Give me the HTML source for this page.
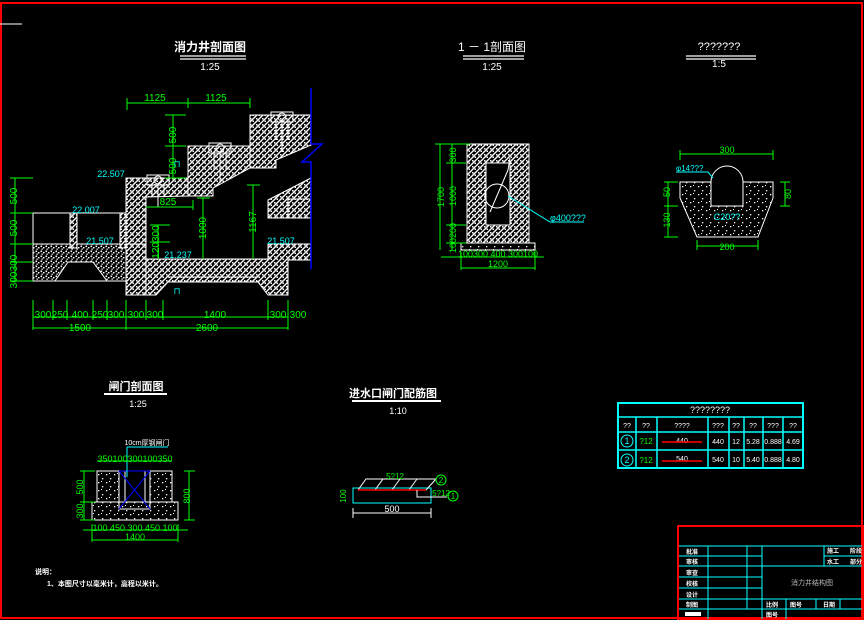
<!DOCTYPE html>
<html><head><meta charset="utf-8"><style>
html,body{margin:0;padding:0;background:#000;}
svg{display:block;}
text{font-family:"Liberation Sans","Noto Sans CJK SC",sans-serif;}
</style></head><body>
<svg width="864" height="620" viewBox="0 0 864 620" xmlns="http://www.w3.org/2000/svg">
<defs>
<pattern id="h" width="6" height="6" patternUnits="userSpaceOnUse">
<rect width="6" height="6" fill="#000"/>
<path d="M0 6L6 0M-2 2L2 -2M4 8L8 4" stroke="#fff" stroke-width="1.4"/>
<rect x="0.5" y="0.5" width="1.5" height="1.5" fill="#fff"/><rect x="4" y="4" width="1.5" height="1.5" fill="#fff"/>
</pattern>
<pattern id="d" width="5" height="5" patternUnits="userSpaceOnUse">
<rect width="5" height="5" fill="#000"/>
<rect x="0.5" y="0.5" width="1.6" height="1.6" fill="#fff"/><rect x="3" y="2" width="1.5" height="1.4" fill="#fff"/><rect x="1.5" y="3.5" width="1.3" height="1.3" fill="#fff"/>
</pattern>
<pattern id="s" width="8" height="8" patternUnits="userSpaceOnUse">
<rect width="8" height="8" fill="#000"/>
<rect x="2" y="2" width="1.3" height="1.3" fill="#fff"/><rect x="6" y="6" width="1.3" height="1.3" fill="#fff"/><rect x="5" y="1" width="1" height="1" fill="#fff"/>
</pattern>
</defs>
<rect width="864" height="620" fill="#000"/>
<rect x="1" y="3" width="861" height="615" fill="none" stroke="#f00" stroke-width="2"/>
<line x1="0" y1="24" x2="22" y2="24" stroke="#fff"/>

<g fill="#fff" font-size="11" text-anchor="middle">
<text x="210" y="51" font-size="12" font-weight="bold">消力井剖面图</text>
<text x="210" y="70" font-size="10">1:25</text>
</g>
<g stroke="#fff" stroke-width="1.2"><line x1="180" y1="56" x2="246" y2="56"/><line x1="180" y1="59" x2="246" y2="59"/></g>

<g stroke="#fff" stroke-width="1">
<rect x="33" y="213" width="93" height="68" fill="none"/>
<polygon points="33,244 126,244 126,281 107,281 93,262 68,262 55,281 33,281" fill="url(#d)"/>
<rect x="70" y="213" width="7" height="35" fill="url(#h)"/><rect x="120" y="213" width="6" height="35" fill="url(#h)"/>
<polygon points="126,178 188,178 188,196 146,197 146,295 126,295" fill="url(#h)"/>
<polygon points="188,146 250,146 250,168 213,188 213,196 188,196" fill="url(#h)"/>
<polygon points="250,115 311,115 311,145 276,160 276,168 250,168" fill="url(#h)"/>
<polygon points="268,200 311,178 311,218 268,218" fill="url(#h)"/>
<rect x="288" y="199" width="23" height="19" fill="url(#h)"/>
<polygon points="146,259 268,259 268,244 311,244 311,260 288,260 288,295 268,295 258,282 168,282 156,295 146,295" fill="url(#h)"/>
<line x1="168" y1="277" x2="258" y2="277"/>
<rect x="126" y="244" width="20" height="51" fill="url(#h)"/>
<g fill="none">
<rect x="147" y="175" width="22" height="10"/><circle cx="158" cy="180" r="4"/><line x1="158" y1="185" x2="158" y2="207"/><line x1="152" y1="185" x2="152" y2="197"/><line x1="164" y1="185" x2="164" y2="197"/>
<rect x="209" y="143" width="22" height="10"/><circle cx="220" cy="148" r="4"/><line x1="220" y1="153" x2="220" y2="183"/><line x1="214" y1="153" x2="214" y2="170"/><line x1="226" y1="153" x2="226" y2="170"/>
<rect x="271" y="112" width="22" height="10"/><circle cx="282" cy="117" r="4"/><line x1="282" y1="122" x2="282" y2="152"/><line x1="276" y1="122" x2="276" y2="140"/><line x1="288" y1="122" x2="288" y2="140"/>
</g>
</g>
<path d="M311 88V144H322L302 162H311V269" stroke="#00f" stroke-width="1.5" fill="none"/>

<g stroke="#0f0" stroke-width="1" fill="none">
<path d="M127 103H250M127 98V110M188 98V108M250 98V108"/>
<path d="M173 115V178M165 115H186M165 146H186M165 178H186"/>
<path d="M146 207H193M193 200V210"/>
<path d="M203 198V259M197 198H210"/>
<path d="M253 185V259M247 185H260"/>
<path d="M158 225V259M150 225H170M150 242H170"/>
<path d="M15 178V281M10 178H33M10 213H33M10 244H33M10 262H33M10 281H33"/>
<path d="M33 300V320M33 317H288M53 300V320M67 300V320M93 300V320M107 300V320M126 300V330M146 300V320M163 300V320M268 300V320M288 300V330M33 328H288M33 310V330"/>
</g>
<g fill="#0f0" font-size="10" text-anchor="middle">
<text x="155" y="101">1125</text><text x="216" y="101">1125</text>
<text x="168" y="205">825</text>
<text transform="translate(176,135) rotate(-90)">500</text><text transform="translate(176,166) rotate(-90)">500</text>
<text transform="translate(206,228) rotate(-90)">1000</text><text transform="translate(256,222) rotate(-90)">1167</text>
<text transform="translate(159,242) rotate(-90)">120300</text>
<text transform="translate(17,196) rotate(-90)">500</text><text transform="translate(17,228) rotate(-90)">500</text><text transform="translate(17,263) rotate(-90)">300</text><text transform="translate(17,280) rotate(-90)">300</text>
<text x="43" y="318">300</text><text x="60" y="318">250</text><text x="80" y="318">400</text><text x="100" y="318">250</text><text x="116" y="318">300</text><text x="136" y="318">300</text><text x="155" y="318">300</text><text x="215" y="318">1400</text><text x="278" y="318">300</text><text x="298" y="318">300</text>
<text x="80" y="331">1500</text><text x="207" y="331">2600</text>
</g>
<g fill="#0ff" font-size="9" text-anchor="middle">
<text x="111" y="177">22.507</text><text x="86" y="213">22.007</text><text x="100" y="244">21.507</text><text x="178" y="258">21.237</text><text x="281" y="244">21.507</text>
<text x="177" y="167">⊓</text><text x="177" y="294">⊓</text>
</g>

<g fill="#fff" text-anchor="middle"><text x="492" y="51" font-size="12">1 － 1剖面图</text><text x="492" y="70" font-size="10">1:25</text></g>
<g stroke="#fff" stroke-width="1.2"><line x1="463" y1="56" x2="524" y2="56"/><line x1="463" y1="59" x2="524" y2="59"/></g>
<g stroke="#fff" stroke-width="1" fill="none">
<rect x="467" y="144" width="62" height="99" fill="url(#h)"/>
<rect x="486" y="163" width="24" height="62" fill="#000"/>
<rect x="461" y="243" width="74" height="7" fill="url(#s)"/>
<circle cx="497" cy="196" r="12"/><line x1="490" y1="212" x2="508" y2="170"/><line x1="508" y1="170" x2="510" y2="158"/>
</g>
<path d="M508 196L550 222H584" stroke="#0ff" fill="none"/>
<text x="550" y="221" fill="#0ff" font-size="9">φ400???</text>
<g stroke="#0f0" fill="none"><path d="M440 144V250M435 144H470M452 144V250M446 163H466M446 225H466M446 243H466M441 257H544M461 252V270M535 252V270M461 268H535"/></g>
<g fill="#0f0" font-size="9" text-anchor="middle">
<text transform="translate(444,197) rotate(-90)">1700</text><text transform="translate(456,155) rotate(-90)">300</text><text transform="translate(456,196) rotate(-90)">1000</text><text transform="translate(456,238) rotate(-90)">100200</text>
<text x="498" y="257">100300 400 300100</text><text x="498" y="267">1200</text>
</g>

<g fill="#fff" text-anchor="middle"><text x="719" y="50" font-size="11">???????</text><text x="719" y="67" font-size="10">1:5</text></g>
<g stroke="#fff" stroke-width="1.2"><line x1="686" y1="56" x2="756" y2="56"/><line x1="686" y1="59" x2="756" y2="59"/></g>
<g stroke="#fff" stroke-width="1">
<polygon points="680,182 773,182 773,198 758,237 697,237 680,198" fill="url(#s)"/>
<path d="M711 206V182A16 16 0 0 1 743 182V206Z" fill="#000"/>
</g>
<text x="727" y="220" fill="#0ff" font-size="9" text-anchor="middle">C20??</text>
<path d="M676 172H708L713 178" stroke="#0ff" fill="none"/><text x="676" y="171" fill="#0ff" font-size="8">φ14???</text>
<g stroke="#0f0" fill="none"><path d="M680 154H773M680 150V160M773 150V160M668 182V237M664 182H678M664 206H678M664 237H678M785 182V206M780 182H790M780 206H790M697 246H758M697 240V250M758 240V250"/></g>
<g fill="#0f0" font-size="9" text-anchor="middle"><text x="727" y="153">300</text><text x="727" y="250">200</text>
<text transform="translate(670,192) rotate(-90)">50</text><text transform="translate(670,220) rotate(-90)">130</text><text transform="translate(791,194) rotate(-90)">80</text></g>

<g stroke="#0ff" stroke-width="1.5" fill="none">
<rect x="618" y="403" width="185" height="65" stroke-width="2"/>
<path d="M618 417H803M618 432H803M618 450H803M636 417V468M657 417V468M708 417V468M729 417V468M744 417V468M763 417V468M783 417V468"/>
</g>
<g fill="#fff" font-size="7" text-anchor="middle">
<text x="710" y="413" font-size="9">????????</text>
<text x="627" y="428">??</text><text x="646" y="428">??</text><text x="682" y="428">????</text><text x="718" y="428">???</text><text x="736" y="428">??</text><text x="753" y="428">??</text><text x="773" y="428">???</text><text x="793" y="428">??</text>
<text x="682" y="443">440</text><text x="718" y="444">440</text><text x="736" y="444">12</text><text x="753" y="444">5.28</text><text x="773" y="444">0.888</text><text x="793" y="444">4.69</text>
<text x="682" y="461">540</text><text x="718" y="462">540</text><text x="736" y="462">10</text><text x="753" y="462">5.40</text><text x="773" y="462">0.888</text><text x="793" y="462">4.80</text>
</g>
<g stroke="#f00" stroke-width="1.5"><line x1="662" y1="442" x2="702" y2="442"/><line x1="662" y1="461" x2="702" y2="461"/></g>
<g stroke="#0ff" fill="none"><circle cx="627" cy="441" r="6"/><circle cx="627" cy="460" r="6"/></g>
<g fill="#0ff" font-size="9" text-anchor="middle"><text x="627" y="444">1</text><text x="627" y="463">2</text></g>
<g fill="#0f0" font-size="8" text-anchor="middle"><text x="646" y="444">?12</text><text x="646" y="463">?12</text></g>

<g fill="#fff" text-anchor="middle"><text x="136" y="390" font-size="11" font-weight="bold">闸门剖面图</text><text x="138" y="407" font-size="9">1:25</text></g>
<line x1="104" y1="394" x2="167" y2="394" stroke="#fff" stroke-width="2"/>
<g stroke="#fff" stroke-width="1">
<rect x="92" y="502" width="86" height="18" fill="url(#s)"/>
<rect x="97" y="471" width="22" height="31" fill="url(#s)"/>
<rect x="150" y="471" width="22" height="31" fill="url(#s)"/>
<rect x="119" y="502" width="31" height="7" fill="url(#s)"/>
<line x1="125" y1="471" x2="125" y2="502"/><line x1="145" y1="471" x2="145" y2="502"/>
</g>
<path d="M119 471H150M119 471L150 509M150 471L119 509" stroke="#00f" fill="none"/>
<path d="M127 477V447H168" stroke="#0ff" fill="none"/>
<text x="147" y="445" fill="#fff" font-size="7" text-anchor="middle">10cm厚钢闸门</text>
<g stroke="#0f0" fill="none"><path d="M97 461H172M84 471V520M80 471H95M80 502H95M80 520H95M189 471V520M184 471H195M184 520H195M83 530H188M92 524V542M178 524V542M92 540H178"/></g>
<g fill="#0f0" font-size="9" text-anchor="middle"><text x="135" y="462">350100300100350</text><text x="135" y="531">100 450 300 450 100</text><text x="135" y="540">1400</text>
<text transform="translate(83,487) rotate(-90)">500</text><text transform="translate(83,511) rotate(-90)">300</text><text transform="translate(190,496) rotate(-90)">800</text></g>

<g fill="#fff" text-anchor="middle"><text x="393" y="397" font-size="11" font-weight="bold">进水口闸门配筋图</text><text x="398" y="414" font-size="9">1:10</text></g>
<line x1="352" y1="401" x2="441" y2="401" stroke="#fff" stroke-width="2"/>
<rect x="353" y="488" width="78" height="15" fill="none" stroke="#0ff"/>
<path d="M358 490L366 479H436L426 490M375 490L383 479M392 490L400 479M409 490L417 479" stroke="#fff" fill="none"/>
<line x1="358" y1="490" x2="426" y2="490" stroke="#f00" stroke-width="1.5"/>
<path d="M417 490V497H447" stroke="#fff" fill="none"/>
<g stroke="#0f0" fill="none"><circle cx="441" cy="480" r="5"/><circle cx="453" cy="496" r="5"/></g>
<g fill="#0f0" font-size="8" text-anchor="middle"><text x="395" y="479">5?12</text><text x="441" y="496">5?12</text><text x="441" y="483">2</text><text x="453" y="499">1</text>
<text transform="translate(346,496) rotate(-90)">100</text></g>
<path d="M353 513H431M353 508V518M431 508V518" stroke="#fff" fill="none"/>
<text x="392" y="512" fill="#fff" font-size="9" text-anchor="middle">500</text>

<g fill="#fff" font-size="7" font-weight="bold"><text x="35" y="574">说明：</text><text x="47" y="586">1、本图尺寸以毫米计，高程以米计。</text></g>

<rect x="678" y="526" width="185" height="93" fill="none" stroke="#f00" stroke-width="2"/>
<g stroke="#0ff" fill="none">
<path d="M679 546H862M679 556H762M824 556H862M679 566H862M679 577H762M679 588H762M679 599H762M679 609H862M762 599H862"/>
<path d="M708 546V619M747 546V609M762 546V619M824 546V566M786 599V609M816 599V609M840 599V609M786 609V619"/>
</g>
<g fill="#fff" font-size="6" font-weight="bold">
<text x="686" y="554">批准</text><text x="686" y="564">审核</text><text x="686" y="575">审查</text><text x="686" y="586">校核</text><text x="686" y="597">设计</text><text x="686" y="607">制图</text>
<rect x="685" y="612" width="16" height="4"/>
<text x="827" y="553">施工</text><text x="850" y="553">阶段</text><text x="827" y="564">水工</text><text x="850" y="564">部分</text>
<text x="766" y="607">比例</text><text x="790" y="607">图号</text><text x="823" y="607">日期</text><text x="766" y="617">图号</text>
</g>
<text x="812" y="585" fill="#bbb" font-size="7" text-anchor="middle">消力井结构图</text>
</svg>
</body></html>
